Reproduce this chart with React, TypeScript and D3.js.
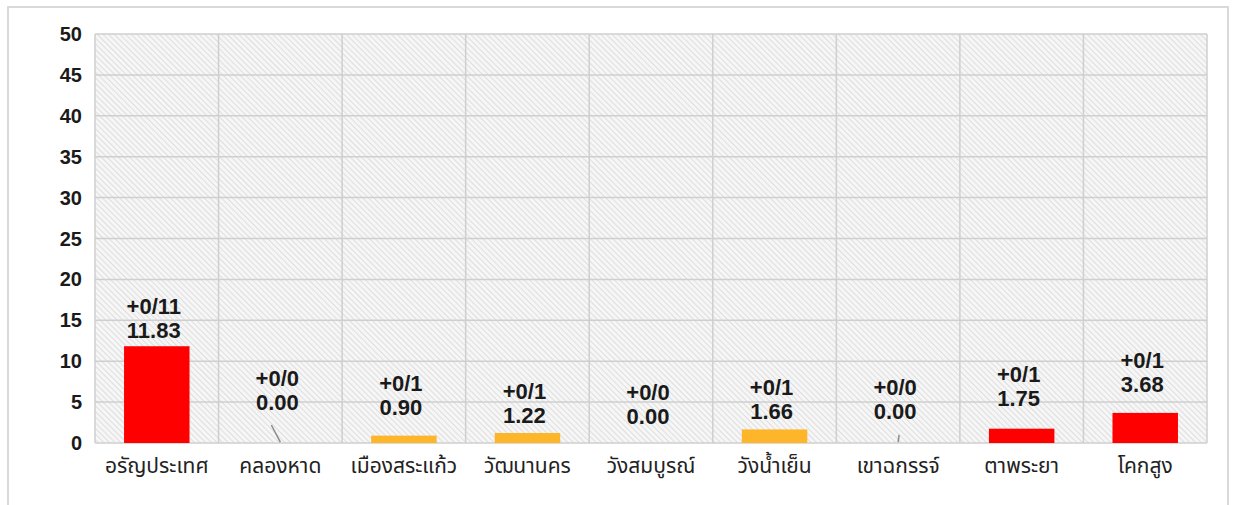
import React from "react";
import * as d3 from "d3";

const categories = [
  "อรัญประเทศ",
  "คลองหาด",
  "เมืองสระแก้ว",
  "วัฒนานคร",
  "วังสมบูรณ์",
  "วังน้ำเย็น",
  "เขาฉกรรจ์",
  "ตาพระยา",
  "โคกสูง",
];
const values = [11.83, 0.0, 0.9, 1.22, 0.0, 1.66, 0.0, 1.75, 3.68];
const caseLabels = ["+0/11", "+0/0", "+0/1", "+0/1", "+0/0", "+0/1", "+0/0", "+0/1", "+0/1"];
const levels = ["high", "none", "mid", "mid", "none", "mid", "none", "high", "high"];
// label anchor (value units) as placed in the original chart
const labelAnchor = [13.8, 5.0, 4.3, 3.4, 3.2, 3.8, 3.8, 5.5, 7.1];
const yTicks = [0, 5, 10, 15, 20, 25, 30, 35, 40, 45, 50];

const W = 1239;
const H = 505;
const left = 95;
const right = 1207;
const top = 34;
const bottom = 443;

const colorOf: Record<string, string> = {
  high: "#FF0000",
  mid: "#FDB52A",
  none: "#FF0000",
};

export default function App() {
  const x = d3.scaleBand<string>().domain(categories).range([left, right]).padding(0);
  const y = d3.scaleLinear().domain([0, 50]).range([bottom, top]);
  const bw = x.bandwidth();
  const barW = bw * 0.53;
  const gridColor = "#cfcfcf";
  const numFont = "'Liberation Sans', Arial, sans-serif";
  const thaiFont = "Tahoma, 'Noto Sans Thai', 'Noto Sans', 'DejaVu Sans', sans-serif";

  return (
    <svg
      width={W}
      height={H}
      style={{ position: "absolute", left: 0, top: 0, background: "#fff" }}
    >
      <defs>
        <pattern id="hatch" width="4" height="4" patternUnits="userSpaceOnUse" patternTransform="rotate(-45)">
          <rect width="4" height="4" fill="#f6f6f6" />
          <line x1="0" y1="0" x2="0" y2="4" stroke="#d2d2d2" strokeWidth="1.3" />
        </pattern>
      </defs>
      {/* outer chart border */}
      <rect x={8} y={7} width={1220} height={520} fill="#fff" stroke="#d9d9d9" strokeWidth={2} />
      {/* plot area */}
      <rect x={left} y={top} width={right - left} height={bottom - top} fill="url(#hatch)" />
      {/* horizontal gridlines */}
      {yTicks.map((t) => (
        <line key={"h" + t} x1={left} x2={right} y1={y(t)} y2={y(t)} stroke={gridColor} strokeWidth={1.5} />
      ))}
      {/* vertical gridlines */}
      {categories.map((c) => (
        <line key={"v" + c} x1={x(c)!} x2={x(c)!} y1={top} y2={bottom} stroke={gridColor} strokeWidth={1.5} />
      ))}
      <line x1={right} x2={right} y1={top} y2={bottom} stroke={gridColor} strokeWidth={1.5} />
      {/* y tick labels */}
      {yTicks.map((t) => (
        <text
          key={"t" + t}
          x={82}
          y={y(t)}
          textAnchor="end"
          dominantBaseline="central"
          fontFamily={numFont}
          fontWeight="bold"
          fontSize={20}
          fill="#1a1a1a"
        >
          {t}
        </text>
      ))}
      {/* bars */}
      {categories.map((c, i) => {
        const cx = x(c)! + bw / 2;
        return values[i] > 0 ? (
          <rect
            key={"b" + c}
            x={cx - barW / 2}
            y={y(values[i])}
            width={barW}
            height={y(0) - y(values[i])}
            fill={colorOf[levels[i]]}
          />
        ) : null;
      })}
      {/* leader lines for zero values */}
      <line x1={x(categories[1])! + bw / 2 - 9} y1={y(2.2)} x2={x(categories[1])! + bw / 2} y2={y(0.1)} stroke="#8a8a8a" strokeWidth={1.5} />
      <line x1={x(categories[6])! + bw / 2 + 1} y1={y(1.0)} x2={x(categories[6])! + bw / 2} y2={y(0.1)} stroke="#8a8a8a" strokeWidth={1.5} />
      {/* data labels */}
      {categories.map((c, i) => {
        const cx = x(c)! + bw / 2;
        const ly = y(labelAnchor[i]);
        return (
          <g key={"l" + c} fontFamily={numFont} fontWeight="bold" fontSize={22} fill="#1a1a1a" textAnchor="middle">
            <text x={cx - 3} y={ly - 24} dominantBaseline="central">
              {caseLabels[i]}
            </text>
            <text x={cx - 3} y={ly} dominantBaseline="central">
              {values[i].toFixed(2)}
            </text>
          </g>
        );
      })}
      {/* category labels */}
      {categories.map((c) => (
        <text
          key={"c" + c}
          x={x(c)! + bw / 2}
          y={466}
          textAnchor="middle"
          dominantBaseline="central"
          fontFamily={thaiFont}
          fontSize={21}
          fill="#222"
        >
          {c}
        </text>
      ))}
    </svg>
  );
}
